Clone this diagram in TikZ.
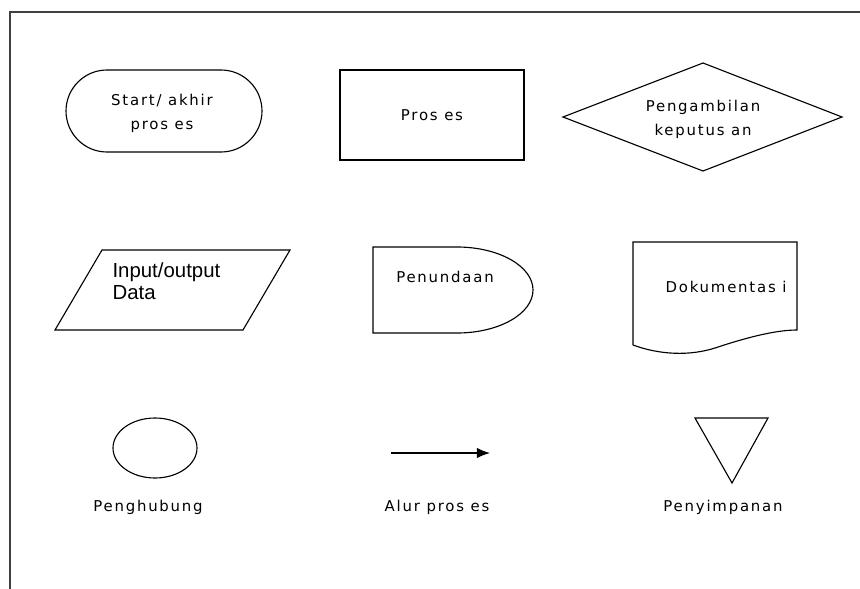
\documentclass[tikz,border=0pt]{standalone}
\usepackage{fontspec}
\newfontfamily\blokfont[LetterSpace=12]{DejaVu Sans}
\newfontfamily\arialfont{Liberation Sans}
\usetikzlibrary{arrows.meta}
\begin{document}
\begin{tikzpicture}[x=0.025cm,y=0.025cm,line width=0.8pt,
  lbl/.style={font=\blokfont\fontsize{10.6}{17}\selectfont,align=center,inner sep=0pt},
  io/.style={font=\arialfont\fontsize{14.5}{16}\selectfont,align=left,inner sep=0pt}]
\useasboundingbox (0,0) rectangle (860,588);
\clip (0,0) rectangle (860,588);
% frame
\draw [line width=1.1pt,black!75] (10,-10) -- (10,576) -- (880,576);
% row 1
\draw (107,518) -- (221,518) arc[start angle=90,end angle=-90,radius=41]
  -- (107,436) arc[start angle=270,end angle=90,radius=41] -- cycle;
\node[lbl] (start) at (162,475) {Start/ akhir\\pros es};
\draw (340,518) rectangle (524,428);
\node[lbl] (proses) at (432,473) {Pros es};
\coordinate (DL) at (563,471);
\coordinate (DT) at (703,525);
\coordinate (DR) at (842,471);
\coordinate (DB) at (703,417);
\draw (DL) -- (DT) -- (DR) -- (DB) -- cycle;
\node[lbl] (putus) at (703,469) {Pengambilan\\keputus an};
% row 2
\draw (102,338) -- (290,338) -- (243,258) -- (55,258) -- cycle;
\node[io,anchor=west] (input) at (112,307) {Input/output\\Data};
\draw (373,341) -- (457,341) arc[start angle=90,end angle=-90,x radius=76,y radius=43]
  -- (373,255) -- cycle;
\node[lbl] (tunda) at (445,311) {Penundaan};
\draw (633,243) -- (633,346) -- (797,346) -- (797,258)
  .. controls (775,258) and (745,250) .. (715,240)
  .. controls (690,232) and (660,233) .. (633,243);
\node[lbl] (dok) at (726,301) {Dokumentas i};
% row 3
\draw (155,140) ellipse [x radius=42,y radius=30];
\node[lbl] (hubung) at (148,81) {Penghubung};
\coordinate (A1) at (391,135);
\coordinate (A2) at (490,135);
\draw [-{Latex[length=3.3mm,width=2.6mm]}] (A1) -- (A2);
\node[lbl] (alur) at (437,81) {Alur pros es};
\draw (695,170) -- (768,170) -- (732,105) -- cycle;
\node[lbl] (simpan) at (723,81) {Penyimpanan};
\end{tikzpicture}
\end{document}
